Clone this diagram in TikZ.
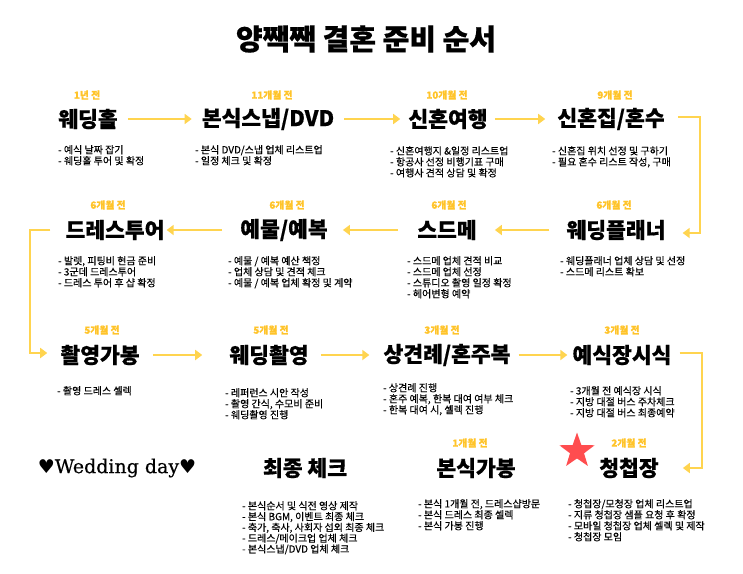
\documentclass[tikz,border=0pt]{standalone}
\usepackage{fontspec}
\setmainfont{Noto Sans CJK KR}[BoldFeatures={FakeBold=0.6}]
\newfontfamily\krm{Noto Sans CJK KR}[FakeBold=0.35]
\newfontfamily\dvs{DejaVu Sans}
\newfontfamily\wserif{DejaVu Serif}[FakeBold=0.5]
\usetikzlibrary{arrows.meta,shapes.geometric}
\definecolor{arrowy}{HTML}{FFD44F}
\definecolor{monthy}{HTML}{FFC42A}
\definecolor{starred}{HTML}{FF4D4F}
\begin{document}
\begin{tikzpicture}[x=1pt,y=-1pt,
 ttl/.style={font=\fontsize{21.5}{23}\selectfont\bfseries, inner sep=0},
 bigttl/.style={font=\fontsize{29}{31}\selectfont\bfseries, inner sep=0},
 mon/.style={font=\fontsize{9.8}{11}\selectfont\bfseries, text=monthy, inner sep=0},
 lst/.style={font=\krm\fontsize{10}{11}\selectfont, align=left, anchor=north west, inner sep=0},
 arr/.style={draw=arrowy, line width=2.2pt, -{Triangle[length=7pt,width=10pt]}},
]
\fill[white] (0,0) rectangle (743,573);
\useasboundingbox (0,0) rectangle (743,573);

\node[bigttl] (title) at (366,39) {양짹짹 결혼 준비 순서};

% Row 1
\node[mon] (m1) at (87,95) {1년 전};
\node[ttl] (t1) at (88,119) {웨딩홀};
\node[lst] (l1) at (58,145) {- 예식 날짜 잡기\\- 웨딩홀 투어 및 확정};
\node[mon] (m2) at (272,95) {11개월 전};
\node[ttl] (t2) at (268,119) {본식스냅/DVD};
\node[lst] (l2) at (195,145) {- 본식 DVD/스냅 업체 리스트업\\- 일정 체크 및 확정};
\node[mon] (m3) at (447,95) {10개월 전};
\node[ttl] (t3) at (448,119) {신혼여행};
\node[lst] (l3) at (390,146) {- 신혼여행지 \&일정 리스트업\\- 항공사 선정 비행기표 구매\\- 여행사 견적 상담 및 확정};
\node[mon] (m4) at (615,95) {9개월 전};
\node[ttl] (t4) at (611,119) {신혼집/혼수};
\node[lst] (l4) at (552,146) {- 신혼집 위치 선정 및 구하기\\- 필요 혼수 리스트 작성, 구매};

% Row 2
\node[mon] (m5) at (108,205) {6개월 전};
\node[ttl] (t5) at (115,230) {드레스투어};
\node[lst] (l5) at (58,256) {- 발렛, 피팅비 현금 준비\\- 3군데 드레스투어\\- 드레스 투어 후 샵 확정};
\node[mon] (m6) at (287,205) {6개월 전};
\node[ttl] (t6) at (284,230) {예물/예복};
\node[lst] (l6) at (228,256) {- 예물 / 예복 예산 책정\\- 업체 상담 및 견적 체크\\- 예물 / 예복 업체 확정 및 계약};
\node[mon] (m7) at (449,205) {6개월 전};
\node[ttl] (t7) at (447,230) {스드메};
\node[lst] (l7) at (407,256) {- 스드메 업체 견적 비교\\- 스드메 업체 선정\\- 스튜디오 촬영 일정 확정\\- 헤어변형 예약};
\node[mon] (m8) at (614,205) {6개월 전};
\node[ttl] (t8) at (616,230) {웨딩플래너};
\node[lst] (l8) at (560,256) {- 웨딩플래너 업체 상담 및 선정\\- 스드메 리스트 확보};

% Row 3
\node[mon] (m9) at (102,330) {5개월 전};
\node[ttl] (t9) at (100,355) {촬영가봉};
\node[lst] (l9) at (57,386) {- 촬영 드레스 셀렉};
\node[mon] (m10) at (271,330) {5개월 전};
\node[ttl] (t10) at (269,355) {웨딩촬영};
\node[lst] (l10) at (225,388) {- 레퍼런스 시안 작성\\- 촬영 간식, 수모비 준비\\- 웨딩촬영 진행};
\node[mon] (m11) at (442,330) {3개월 전};
\node[ttl] (t11) at (447,355) {상견례/혼주복};
\node[lst] (l11) at (383,383) {- 상견례 진행\\- 혼주 예복, 한복 대여 여부 체크\\- 한복 대여 시, 셀렉 진행};
\node[mon] (m12) at (622,330) {3개월 전};
\node[ttl] (t12) at (622,355) {예식장시식};
\node[lst] (l12) at (570,386) {- 3개월 전 예식장 시식\\- 지방 대절 버스 주차체크\\- 지방 대절 버스 최종예약};

% Row 4
\node[inner sep=0, font=\fontsize{19}{21}\selectfont] (wd) at (117,468) {{\dvs ♥}{\wserif Wedding day}{\dvs ♥}};
\node[ttl] (t13) at (305,468) {최종 체크};
\node[lst, font=\krm\fontsize{10}{10.8}\selectfont] (l13) at (242,501) {- 본식순서 및 식전 영상 제작\\- 본식 BGM, 이벤트 최종 체크\\- 축가, 축사, 사회자 섭외 최종 체크\\- 드레스/메이크업 업체 체크\\- 본식스냅/DVD 업체 체크};
\node[mon] (m14) at (470,443) {1개월 전};
\node[ttl] (t14) at (476,468) {본식가봉};
\node[lst] (l14) at (418,499) {- 본식 1개월 전, 드레스샵방문\\- 본식 드레스 최종 셀렉\\- 본식 가봉 진행};
\node[mon] (m15) at (629,443) {2개월 전};
\node[ttl] (t15) at (629,468) {청첩장};
\node[lst] (l15) at (568,499) {- 청첩장/모청장 업체 리스트업\\- 지류 청첩장 샘플 요청 후 확정\\- 모바일 청첩장 업체 셀렉 및 제작\\- 청첩장 모임};
\node[star, star points=5, star point ratio=2.5, minimum size=37pt, inner sep=0, fill=starred, draw=none] (star) at (577,451) {};

% Arrows row 1
\draw[arr, shorten <=10pt, shorten >=10pt] (t1) -- (t2);
\draw[arr, shorten <=10pt, shorten >=8pt] (t2) -- (t3);
\draw[arr, shorten <=7pt, shorten >=12pt] (t3) -- (t4);
\draw[arr] ([xshift=13pt,yshift=2pt]t4.east) -- ++(22,0) |- ([xshift=17pt,yshift=-3pt]t8.east);
% Arrows row 2
\draw[arr, shorten <=17pt, shorten >=18pt] (t8) -- (t7);
\draw[arr, shorten <=19pt, shorten >=15pt] (t7) -- (t6);
\draw[arr, shorten <=18pt, shorten >=2pt] (t6) -- (t5);
\draw[arr] ([xshift=-15pt]t5.west) -- ++(-20,0) |- ([xshift=-13pt,yshift=2pt]t9.west);
% Arrows row 3
\draw[arr, shorten <=13pt, shorten >=27pt] (t9) -- (t10);
\draw[arr, shorten <=12pt, shorten >=14pt] (t10) -- (t11);
\draw[arr, shorten <=8pt, shorten >=5pt] (t11) -- (t12);
\draw[arr] ([xshift=8pt,yshift=2pt]t12.east) -- ++(22,0) |- ([xshift=24pt]t15.east);
\end{tikzpicture}
\end{document}
